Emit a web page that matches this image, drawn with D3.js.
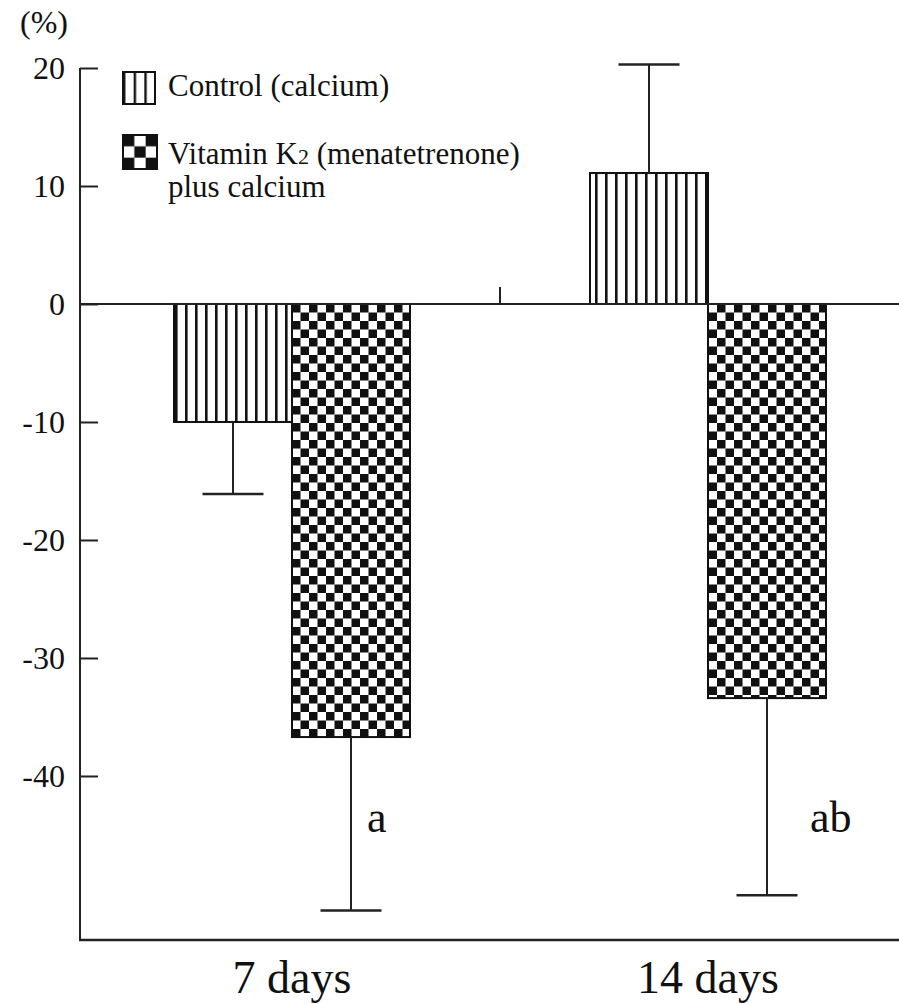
<!DOCTYPE html>
<html>
<head>
<meta charset="utf-8">
<script src="https://cdn.jsdelivr.net/npm/d3@7"></script>
<style>
  html, body { margin: 0; padding: 0; background: #fff; }
  svg { display: block; }
  svg text { font-family: "Liberation Serif", "DejaVu Serif", serif !important; fill: #111; }
</style>
</head>
<body>
<svg id="chart" width="899" height="1004"></svg>
<script>
// ---- data ----
const categories = ["7 days", "14 days"];
const seriesNames = ["Control (calcium)", "Vitamin K2 (menatetrenone) plus calcium"];
const controlValues = [-10.0, 11.1];
const controlErrors = [6.1, 9.2];
const vitaminValues = [-36.7, -33.4];
const vitaminErrors = [14.7, 16.7];
const significance = ["a", "ab"];
const yTicks = [20, 10, 0, -10, -20, -30, -40];
const yDomain = [-53.9, 20];

// ---- layout ----
const svg = d3.select("#chart");
const axisX = 80, plotTop = 68, plotBottom = 940, plotRight = 899;
const sigDx = [16, 43];

const y = d3.scaleLinear().domain(yDomain).range([plotBottom, plotTop]);
const x = d3.scaleBand().domain(categories).range([84, 916]).padding(0);
const bw = x.bandwidth();
const sub = d3.scaleBand().domain([0, 1]).range([bw / 2 - 118, bw / 2 + 118]).padding(0);

// ---- patterns ----
const defs = svg.append("defs");
const stripe = defs.append("pattern").attr("id", "stripes")
  .attr("patternUnits", "userSpaceOnUse").attr("width", 10).attr("height", 10)
  .attr("x", 175);
stripe.append("rect").attr("width", 10).attr("height", 10).attr("fill", "#fff");
stripe.append("rect").attr("x", 0).attr("width", 2.6).attr("height", 10).attr("fill", "#111");

const cs = 8.5;
const checker = defs.append("pattern").attr("id", "checker")
  .attr("patternUnits", "userSpaceOnUse").attr("width", cs * 2).attr("height", cs * 2)
  .attr("x", 292).attr("y", 304);
checker.append("rect").attr("width", cs * 2).attr("height", cs * 2).attr("fill", "#fff");
checker.append("rect").attr("x", 0).attr("y", 0).attr("width", cs).attr("height", cs).attr("fill", "#111");
checker.append("rect").attr("x", cs).attr("y", cs).attr("width", cs).attr("height", cs).attr("fill", "#111");

// legend patterns (larger)
const lStripe = defs.append("pattern").attr("id", "lstripes")
  .attr("patternUnits", "userSpaceOnUse").attr("width", 32 / 3).attr("height", 10)
  .attr("x", 123);
lStripe.append("rect").attr("width", 32 / 3).attr("height", 10).attr("fill", "#fff");
lStripe.append("rect").attr("x", 0).attr("width", 2.4).attr("height", 10).attr("fill", "#111");

const ls = 34 / 3;
const lChecker = defs.append("pattern").attr("id", "lchecker")
  .attr("patternUnits", "userSpaceOnUse").attr("width", ls * 2).attr("height", ls * 2)
  .attr("x", 123).attr("y", 135);
lChecker.append("rect").attr("width", ls * 2).attr("height", ls * 2).attr("fill", "#fff");
lChecker.append("rect").attr("x", 0).attr("y", 0).attr("width", ls).attr("height", ls).attr("fill", "#111");
lChecker.append("rect").attr("x", ls).attr("y", ls).attr("width", ls).attr("height", ls).attr("fill", "#111");

// ---- data rows ----
const series = [
  { name: seriesNames[0], values: controlValues, errors: controlErrors, fill: "url(#stripes)" },
  { name: seriesNames[1], values: vitaminValues, errors: vitaminErrors, fill: "url(#checker)" }
];
const bars = [];
series.forEach((s, si) => {
  categories.forEach((c, ci) => {
    bars.push({ cat: c, si, value: s.values[ci], err: s.errors[ci], fill: s.fill, ci });
  });
});

// ---- bars ----
const g = svg.append("g");
g.selectAll("rect.bar").data(bars).join("rect").attr("class", "bar")
  .attr("x", d => x(d.cat) + sub(d.si))
  .attr("width", sub.bandwidth())
  .attr("y", d => Math.min(y(d.value), y(0)))
  .attr("height", d => Math.abs(y(d.value) - y(0)))
  .attr("fill", d => d.fill)
  .attr("stroke", "#111").attr("stroke-width", 2);

// ---- error bars ----
const cx = d => x(d.cat) + sub(d.si) + sub.bandwidth() / 2;
const errEnd = d => d.value >= 0 ? d.value + d.err : d.value - d.err;
g.selectAll("line.err").data(bars).join("line").attr("class", "err")
  .attr("x1", cx).attr("x2", cx)
  .attr("y1", d => y(d.value)).attr("y2", d => y(errEnd(d)))
  .attr("stroke", "#222").attr("stroke-width", 2);
g.selectAll("line.cap").data(bars).join("line").attr("class", "cap")
  .attr("x1", d => cx(d) - 30.5).attr("x2", d => cx(d) + 30.5)
  .attr("y1", d => y(errEnd(d))).attr("y2", d => y(errEnd(d)))
  .attr("stroke", "#222").attr("stroke-width", 2.5);

// significance labels
g.selectAll("text.sig").data(bars.filter(d => d.si === 1)).join("text").attr("class", "sig")
  .attr("x", d => cx(d) + sigDx[d.ci])
  .attr("y", 832)
  .attr("font-size", 44)
  .text(d => significance[d.ci]);

// ---- axes ----
svg.append("line").attr("x1", axisX).attr("x2", plotRight)
  .attr("y1", y(0)).attr("y2", y(0)).attr("stroke", "#222").attr("stroke-width", 2);
svg.append("line").attr("x1", x("14 days")).attr("x2", x("14 days"))
  .attr("y1", y(0)).attr("y2", y(0) - 17).attr("stroke", "#222").attr("stroke-width", 2);
svg.append("line").attr("x1", axisX - 1).attr("x2", plotRight)
  .attr("y1", plotBottom).attr("y2", plotBottom).attr("stroke", "#222").attr("stroke-width", 2.5);

const yAxis = d3.axisLeft(y).tickValues(yTicks).tickSize(-18).tickPadding(15)
  .tickFormat(d => String(d));
const ya = svg.append("g").attr("transform", `translate(${axisX},0)`).call(yAxis);
ya.attr("font-family", null).attr("font-size", null);
ya.select(".domain").attr("d", `M0,${plotTop}V${plotBottom}`).attr("stroke", "#222").attr("stroke-width", 2);
ya.selectAll(".tick line").attr("stroke", "#222").attr("stroke-width", 2);
ya.selectAll(".tick text").attr("font-size", 32).attr("fill", "#111")
  .attr("dy", "0.34em");

// category labels
svg.selectAll("text.cat").data(categories).join("text").attr("class", "cat")
  .attr("x", d => x(d) + bw / 2).attr("y", 993)
  .attr("text-anchor", "middle").attr("font-size", 46)
  .text(d => d);

// unit
svg.append("text").attr("x", 20).attr("y", 33).attr("font-size", 32).text("(%)");

// ---- legend ----
const leg = svg.append("g");
leg.append("rect").attr("x", 123).attr("y", 72).attr("width", 32).attr("height", 32)
  .attr("fill", "url(#lstripes)").attr("stroke", "#111").attr("stroke-width", 2);
leg.append("text").attr("x", 168).attr("y", 96).attr("font-size", 31).text(seriesNames[0]);
leg.append("rect").attr("x", 123).attr("y", 135).attr("width", 34).attr("height", 34)
  .attr("fill", "url(#lchecker)").attr("stroke", "#111").attr("stroke-width", 2);
const t2 = leg.append("text").attr("x", 168).attr("y", 164).attr("font-size", 31);
t2.append("tspan").text("Vitamin K");
t2.append("tspan").attr("font-size", 22).text("2");
t2.append("tspan").text(" (menatetrenone)");
leg.append("text").attr("x", 168).attr("y", 197).attr("font-size", 31).text("plus calcium");
</script>
</body>
</html>
